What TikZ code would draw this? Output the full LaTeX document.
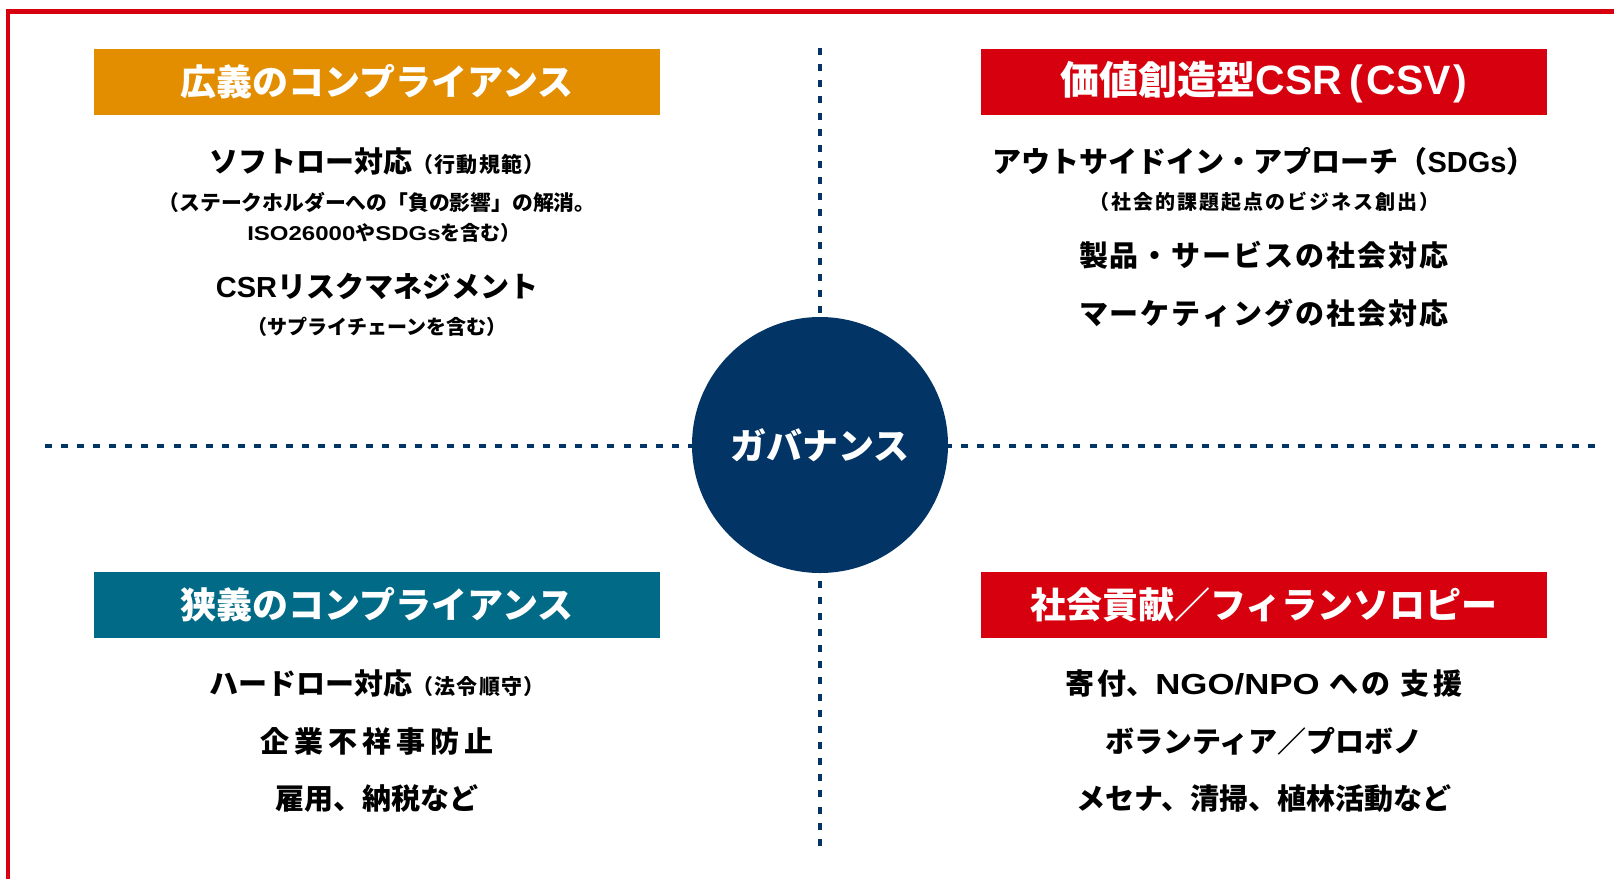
\documentclass[tikz,border=0pt]{standalone}
\usepackage{graphicx}
\usepackage{fontspec}
\setmainfont{Noto Sans CJK JP}
\newfontfamily\latfont{Liberation Sans}
\newcommand{\lat}[2][1]{\scalebox{#1}[1]{\latfont #2}}
\definecolor{cred}{HTML}{D7000F}
\definecolor{corange}{HTML}{E38E00}
\definecolor{cteal}{HTML}{006A87}
\definecolor{cnavy}{HTML}{023565}
\tikzset{
  hdr/.style={rectangle, minimum width=566pt, minimum height=66pt, inner sep=0pt, text=white, font=\bfseries\fontsize{36}{40}\selectfont},
  bigtxt/.style={inner sep=0pt, text=black, font=\bfseries\fontsize{29}{34}\selectfont},
  smalltxt/.style={inner sep=0pt, text=black, font=\bfseries\fontsize{20}{24}\selectfont},
  hdots/.style={draw=cnavy, line width=4.5pt, dash pattern=on 7pt off 9.07pt},
  vdots/.style={draw=cnavy, line width=4.5pt, dash pattern=on 7pt off 9.14pt},
  frame/.style={draw=cred, line width=4.5pt},
}
\newcommand{\smallpart}[1]{{\fontsize{21}{24}\selectfont\addfontfeatures{LetterSpace=6}#1}}
\newcommand{\gapk}{\kern2pt}
\begin{document}
\begin{tikzpicture}[x=1pt,y=-1pt]
\useasboundingbox (0,0) rectangle (1614,879);
% frame
\coordinate (fl) at (8,879);
\coordinate (fc) at (8,11.5);
\coordinate (fr) at (1614,11.5);
\draw[frame] (fl) -- (fc) -- (fr);
% dotted axes
\coordinate (hl) at (45,446);
\coordinate (hr) at (1595,446);
\coordinate (vt) at (820,48);
\coordinate (vb) at (820,846);
\draw[hdots] (hl) -- (hr);
\draw[vdots] (vt) -- (vb);
% centre
\node[circle, fill=cnavy, minimum size=256pt, inner sep=0pt, text=white, font=\bfseries\fontsize{36}{40}\selectfont] (gov) at (820,445) {ガバナンス};
% headers
\node[hdr, fill=corange] (h1) at (377,82) {広義のコンプライアンス};
\node[hdr, fill=cred] (h2) at (1264,82) {{\fontsize{39}{40}\selectfont 価値創造型}{\fontsize{41}{44}\selectfont\latfont CSR\kern8pt(\kern3pt CSV\kern3pt)}};
\node[hdr, fill=cteal] (h3) at (377,604.5) {狭義のコンプライアンス};
\node[hdr, fill=cred] (h4) at (1264,604.5) {社会貢献／フィランソロピー};
% top left
\node[bigtxt] (a1) at (377,161) {ソフトロー対応\smallpart{（行動規範）}};
\node[smalltxt, font=\bfseries\fontsize{20.8}{24}\selectfont] (a2) at (377,202) {（ステークホルダーへの「負の影響」の解消。};
\node[smalltxt] (a3) at (384,233) {\lat[1.2]{ISO26000}や\lat[1.2]{SDGs}を含む）};
\node[bigtxt] (a4) at (377,286) {\lat{CSR}リスクマネジメント};
\node[smalltxt] (a5) at (377,327) {（サプライチェーンを含む）};
% top right
\node[bigtxt] (b1) at (1264,161.5) {アウトサイドイン・アプローチ（\lat{SDGs}）};
\node[smalltxt] (b2) at (1264,202) {\addfontfeatures{LetterSpace=10}（社会的課題起点のビジネス創出）};
\node[bigtxt] (b3) at (1264,255) {製\gapk 品\gapk ・\gapk サ\gapk ー\gapk ビ\gapk ス\gapk の\gapk 社\gapk 会\gapk 対\gapk 応};
\node[bigtxt] (b4) at (1264,313) {マ\gapk ー\gapk ケ\gapk テ\gapk ィ\gapk ン\gapk グ\gapk の\gapk 社\gapk 会\gapk 対\gapk 応};
% bottom left
\node[bigtxt] (c1) at (377,683) {ハードロー対応\smallpart{（法令順守）}};
\node[bigtxt] (c2) at (377,741) {企\kern5pt 業\kern5pt 不\kern5pt 祥\kern5pt 事\kern5pt 防\kern5pt 止};
\node[bigtxt] (c3) at (377,799) {雇用、納税など};
% bottom right
\node[bigtxt] (d1) at (1264,683) {寄\kern3pt 付、\lat[1.2]{NGO/NPO}\kern10pt へ\kern3pt の\kern10pt 支\kern4pt 援};
\node[bigtxt] (d2) at (1264,741) {ボランティア／プロボノ};
\node[bigtxt] (d3) at (1264,799) {メセナ、清掃、植林活動など};
\end{tikzpicture}
\end{document}
